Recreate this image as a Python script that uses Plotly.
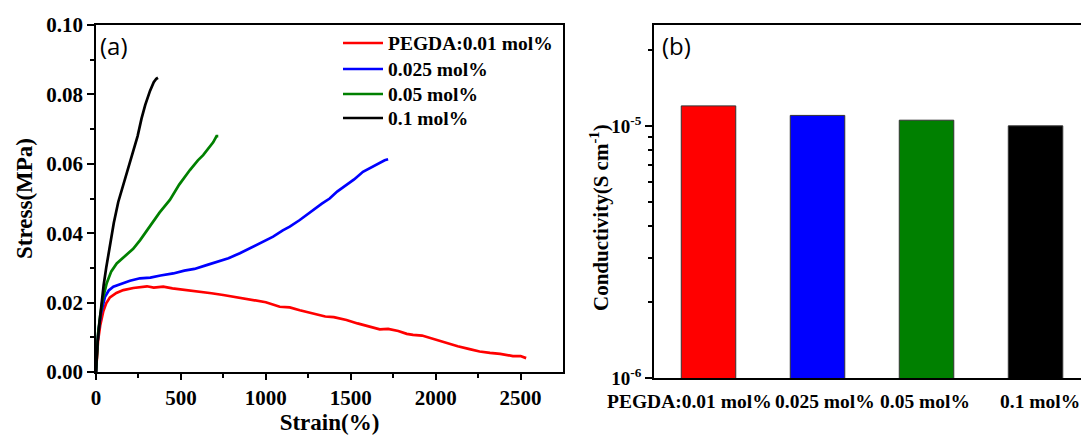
import plotly.graph_objects as go

W, H = 1081, 435

# ---------------- data ----------------
series_names = ["PEGDA:0.01 mol%", "0.025 mol%", "0.05 mol%", "0.1 mol%"]
series_colors = ["#FF0000", "#0000FF", "#008000", "#000000"]

strain_001 = [0, 5, 12, 25, 43, 60, 82, 120, 161, 220, 278, 300, 340, 396, 450, 500, 553, 620, 680,
              749, 820, 880, 945, 1000, 1082, 1141, 1200, 1278, 1350, 1400, 1475, 1540, 1610, 1671,
              1720, 1780, 1830, 1867, 1920, 2000, 2063, 2130, 2200, 2259, 2320, 2380, 2455, 2500, 2533]
stress_001 = [0, 0.005, 0.009, 0.0135, 0.0175, 0.0198, 0.0215, 0.0228, 0.0236, 0.0242, 0.0245, 0.0247,
              0.0243, 0.0246, 0.0241, 0.0238, 0.0236, 0.0230, 0.0227, 0.0222, 0.0216, 0.0212, 0.0207,
              0.0201, 0.0188, 0.0186, 0.0178, 0.0169, 0.0160, 0.0158, 0.0150, 0.0140, 0.0132, 0.0123,
              0.0124, 0.0118, 0.0110, 0.0107, 0.0105, 0.0093, 0.0083, 0.0074, 0.0066, 0.0059, 0.0055,
              0.0052, 0.0046, 0.0046, 0.0040]

strain_0025 = [0, 5, 15, 30, 53, 75, 102, 150, 200, 259, 320, 380, 455, 520, 580, 651, 720, 780, 847,
               920, 980, 1043, 1100, 1141, 1200, 1278, 1330, 1376, 1420, 1475, 1520, 1572, 1620, 1671,
               1700, 1720]
stress_0025 = [0, 0.006, 0.012, 0.017, 0.0217, 0.0235, 0.0246, 0.0255, 0.0263, 0.0270, 0.0272, 0.0278,
               0.0284, 0.0292, 0.0297, 0.0308, 0.0318, 0.0328, 0.0342, 0.0360, 0.0373, 0.0390, 0.0408,
               0.0419, 0.0438, 0.0467, 0.0485, 0.0500, 0.0520, 0.0539, 0.0555, 0.0577, 0.0590, 0.0603,
               0.0610, 0.0613]

strain_005 = [0, 5, 12, 24, 40, 63, 90, 122, 160, 219, 260, 318, 375, 435, 490, 553, 600, 631, 660,
              690, 710, 720]
stress_005 = [0, 0.006, 0.011, 0.016, 0.021, 0.0256, 0.029, 0.0313, 0.033, 0.0355, 0.038, 0.042, 0.046,
              0.0496, 0.054, 0.0582, 0.061, 0.0625, 0.0645, 0.0662, 0.068, 0.068]

strain_01 = [0, 5, 10, 20, 30, 45, 60, 82, 105, 131, 155, 180, 200, 220, 245, 268, 290, 318, 340, 355, 365]
stress_01 = [0, 0.005, 0.009, 0.014, 0.019, 0.025, 0.030, 0.037, 0.043, 0.049, 0.053, 0.057, 0.060,
             0.064, 0.068, 0.073, 0.077, 0.081, 0.0835, 0.0845, 0.0848]

bar_labels = ["PEGDA:0.01 mol%", "0.025 mol%", "0.05 mol%", "0.1 mol%"]
conductivity = [1.20e-5, 1.10e-5, 1.053e-5, 1.00e-5]

x_ticks_a = [0, 500, 1000, 1500, 2000, 2500]
y_ticks_a = [0.00, 0.02, 0.04, 0.06, 0.08, 0.10]
y_ticks_b = [1e-6, 1e-5]
y_ticktext_b = ["10<sup>-6</sup>", "10<sup>-5</sup>"]
y_minor_b = [2e-6, 3e-6, 4e-6, 5e-6, 6e-6, 7e-6, 8e-6, 9e-6, 2e-5]

# ---------------- figure ----------------
SERIF = "Liberation Serif, Times New Roman, serif"
SANS = "Open Sans, Segoe UI, Arial, sans-serif"


def px_x(p):
    return p / W


def px_y(p):
    return 1 - p / H


fig = go.Figure()
curves = [(strain_001, stress_001), (strain_0025, stress_0025), (strain_005, stress_005), (strain_01, stress_01)]
for (sx, sy), name, col in zip(curves, series_names, series_colors):
    fig.add_trace(go.Scatter(x=sx, y=sy, mode="lines", name=name, showlegend=False,
                             line=dict(color=col, width=2.7), xaxis="x", yaxis="y"))

fig.add_trace(go.Bar(x=bar_labels, y=conductivity, marker=dict(color=series_colors,
                     line=dict(color="#333333", width=1)), width=0.5,
                     showlegend=False, xaxis="x2", yaxis="y2"))

tickfont_a = dict(family=SERIF, size=21, color="black", weight="bold")
legfont = dict(family=SERIF, size=19.5, color="black", weight="bold")

# legend drawn as line samples + text (panel a)
legend_rows_y = [43, 69, 94, 118]
shapes = []
annotations = []
for name, col, ry in zip(series_names, series_colors, legend_rows_y):
    shapes.append(dict(type="line", xref="paper", yref="paper",
                       x0=px_x(343), x1=px_x(383), y0=px_y(ry), y1=px_y(ry),
                       line=dict(color=col, width=2.7)))
    annotations.append(dict(text=name, x=px_x(386), y=px_y(ry), xref="paper", yref="paper",
                            xanchor="left", yanchor="middle", showarrow=False, font=legfont))

# category labels of panel b
label_shift = [-19, 7, -2, 4]
for lab, sh in zip(bar_labels, label_shift):
    annotations.append(dict(text=lab, x=lab, xref="x2", y=px_y(401), yref="paper",
                            xanchor="center", yanchor="middle", xshift=sh, showarrow=False,
                            font=legfont))

annotations += [
    dict(text="(a)", x=px_x(98), y=px_y(27), xref="paper", yref="paper",
         xanchor="left", yanchor="top", showarrow=False,
         font=dict(family=SANS, size=24, color="black")),
    dict(text="(b)", x=px_x(660), y=px_y(27), xref="paper", yref="paper",
         xanchor="left", yanchor="top", showarrow=False,
         font=dict(family=SANS, size=24, color="black")),
    dict(text="Conductivity(S cm<sup>-1</sup>)", x=px_x(600), y=px_y(218), xref="paper", yref="paper",
         xanchor="center", yanchor="middle", showarrow=False, textangle=-90,
         font=dict(family=SERIF, size=21, color="black", weight="bold")),
]

fig.update_layout(
    width=W, height=H,
    margin=dict(l=0, r=0, t=0, b=0),
    paper_bgcolor="white", plot_bgcolor="white",
    showlegend=False,
    xaxis=dict(domain=[px_x(96), px_x(563)], anchor="y", range=[0, 2750],
               tickvals=x_ticks_a, ticks="outside", ticklen=6, tickwidth=1.5,
               tickcolor="black", tickfont=tickfont_a,
               minor=dict(tickvals=[250, 750, 1250, 1750, 2250], ticks="outside", ticklen=4,
                          tickwidth=1.5, tickcolor="black"),
               showline=True, linecolor="black", linewidth=1.5, mirror=True,
               showgrid=False, zeroline=False, automargin=False,
               title=dict(text="Strain(%)", font=dict(family=SERIF, size=23, color="black", weight="bold"),
                          standoff=8)),
    yaxis=dict(domain=[px_y(372), px_y(25)], anchor="x", range=[0, 0.10],
               tickvals=y_ticks_a, tickformat=".2f", ticks="outside", ticklen=7, tickwidth=1.5,
               tickcolor="black", tickfont=tickfont_a,
               minor=dict(tickvals=[0.01, 0.03, 0.05, 0.07, 0.09], ticks="outside", ticklen=4,
                          tickwidth=1.5, tickcolor="black"),
               showline=True, linecolor="black", linewidth=1.5, mirror=True,
               showgrid=False, zeroline=False, automargin=False,
               title=dict(text="Stress(MPa)", font=dict(family=SERIF, size=23, color="black", weight="bold"),
                          standoff=7)),
    xaxis2=dict(domain=[px_x(654), 1.0], anchor="y2", range=[-0.5, 3.417],
                ticks="", showticklabels=False,
                showline=True, linecolor="black", linewidth=1.5, mirror=True,
                showgrid=False, zeroline=False, automargin=False),
    yaxis2=dict(domain=[px_y(378), px_y(25)], anchor="x2", type="log", range=[-6, -4.6],
                tickvals=y_ticks_b, ticktext=y_ticktext_b, ticks="outside", ticklen=7, tickwidth=1.5,
                tickcolor="black", tickfont=dict(family=SERIF, size=19, color="black", weight="bold"),
                minor=dict(tickvals=y_minor_b, ticks="outside", ticklen=4, tickwidth=1.5,
                           tickcolor="black"),
                showline=True, linecolor="black", linewidth=1.5, mirror=False,
                showgrid=False, zeroline=False, automargin=False),
    shapes=shapes,
    annotations=annotations,
)

fig.write_html("out.html")
